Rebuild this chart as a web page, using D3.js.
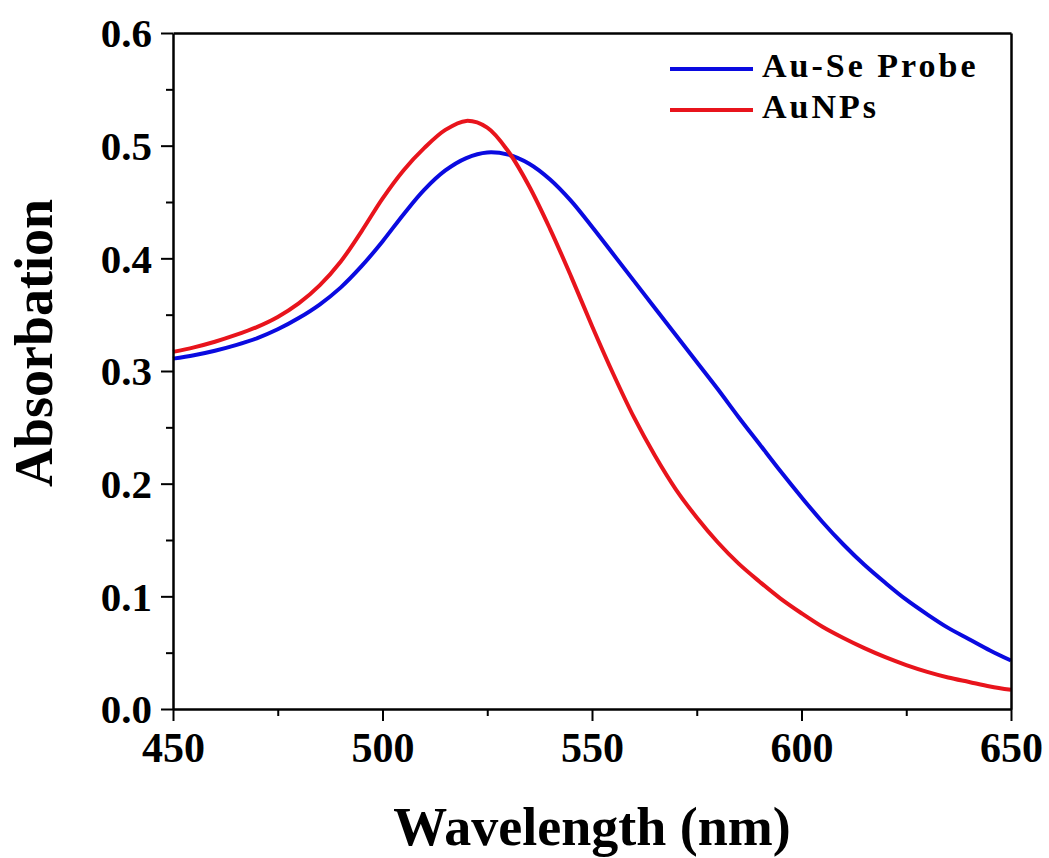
<!DOCTYPE html>
<html>
<head>
<meta charset="utf-8">
<script src="https://cdn.jsdelivr.net/npm/d3@7"></script>
<style>
  body { margin: 0; background: #fff; }
  text { font-family: "Liberation Serif", "Times New Roman", serif; font-weight: bold; fill: #000; }
</style>
</head>
<body>
<div id="vis"></div>
<script>
const FRAME_WIDTH = 1049;
const FRAME_HEIGHT = 858;
const MARGINS = {left: 173, right: 38, top: 33, bottom: 149};

const VIS_WIDTH = FRAME_WIDTH - MARGINS.left - MARGINS.right;
const VIS_HEIGHT = FRAME_HEIGHT - MARGINS.top - MARGINS.bottom;

// wavelength (nm)
const wavelengths = [450, 455, 460, 465, 470, 475, 480, 485, 490, 495,
                     500, 505, 510, 515, 520, 525, 530, 535, 540, 545,
                     550, 555, 560, 565, 570, 575, 580, 585, 590, 595,
                     600, 605, 610, 615, 620, 625, 630, 635, 640, 645, 650];

// Au-Se Probe absorbance
const probeValues = [0.311, 0.314, 0.318, 0.323, 0.329, 0.337, 0.347, 0.359, 0.374, 0.393,
                     0.415, 0.439, 0.461, 0.478, 0.489, 0.494, 0.492, 0.484, 0.470, 0.451,
                     0.428, 0.404, 0.380, 0.356, 0.332, 0.308, 0.284, 0.259, 0.235, 0.211,
                     0.188, 0.166, 0.146, 0.128, 0.112, 0.097, 0.084, 0.072, 0.062, 0.052, 0.043];

// AuNPs absorbance
const aunpValues = [0.317, 0.321, 0.326, 0.332, 0.339, 0.348, 0.360, 0.376, 0.397, 0.424,
                    0.453, 0.478, 0.498, 0.514, 0.522, 0.516, 0.495, 0.464, 0.426, 0.384,
                    0.340, 0.298, 0.259, 0.225, 0.195, 0.170, 0.148, 0.129, 0.113, 0.098,
                    0.085, 0.073, 0.063, 0.054, 0.046, 0.039, 0.033, 0.028, 0.024, 0.020, 0.017];

const xTicks = [450, 500, 550, 600, 650];
const xMinorTicks = [475, 525, 575, 625];
const yTicks = [0.0, 0.1, 0.2, 0.3, 0.4, 0.5, 0.6];
const yMinorTicks = [0.05, 0.15, 0.25, 0.35, 0.45, 0.55];

const seriesNames = ["Au-Se Probe", "AuNPs"];
const seriesColors = ["#0a0ae0", "#e8141c"];

const FRAME = d3.select("#vis")
                .append("svg")
                .attr("width", FRAME_WIDTH)
                .attr("height", FRAME_HEIGHT);

const X_SCALE = d3.scaleLinear()
                  .domain([450, 650])
                  .range([0, VIS_WIDTH]);

const Y_SCALE = d3.scaleLinear()
                  .domain([0, 0.6])
                  .range([VIS_HEIGHT, 0]);

const G = FRAME.append("g")
               .attr("transform", "translate(" + MARGINS.left + "," + MARGINS.top + ")");

// curves
const line = d3.line()
               .x((d) => X_SCALE(d[0]))
               .y((d) => Y_SCALE(d[1]))
               .curve(d3.curveCatmullRom.alpha(0.5));

[probeValues, aunpValues].forEach((vals, i) => {
  G.append("path")
   .datum(wavelengths.map((w, j) => [w, vals[j]]))
   .attr("fill", "none")
   .attr("stroke", seriesColors[i])
   .attr("stroke-width", 4)
   .attr("stroke-linejoin", "round")
   .attr("d", line);
});

// minor ticks
G.append("g")
 .attr("transform", "translate(0," + VIS_HEIGHT + ")")
 .call(d3.axisBottom(X_SCALE).tickValues(xMinorTicks).tickSize(7).tickFormat(""))
 .call((g) => g.select(".domain").remove())
 .selectAll("line").attr("stroke-width", 2);

G.append("g")
 .call(d3.axisLeft(Y_SCALE).tickValues(yMinorTicks).tickSize(7).tickFormat(""))
 .call((g) => g.select(".domain").remove())
 .selectAll("line").attr("stroke-width", 2);

// major axes
const xAxis = G.append("g")
               .attr("transform", "translate(0," + VIS_HEIGHT + ")")
               .call(d3.axisBottom(X_SCALE).tickValues(xTicks).tickSize(12).tickSizeOuter(0)
                       .tickPadding(8).tickFormat(d3.format("d")));
xAxis.selectAll("line").attr("stroke-width", 2);
xAxis.select(".domain").attr("stroke-width", 2.5);
xAxis.selectAll("text")
     .attr("font-size", "42px")
     .attr("font-family", "Liberation Serif")
     .attr("font-weight", "bold")
     .attr("dy", "0.78em");

const yAxis = G.append("g")
               .call(d3.axisLeft(Y_SCALE).tickValues(yTicks).tickSize(12).tickSizeOuter(0)
                       .tickPadding(9).tickFormat(d3.format(".1f")));
yAxis.selectAll("line").attr("stroke-width", 2);
yAxis.select(".domain").attr("stroke-width", 2.5);
yAxis.selectAll("text")
     .attr("font-size", "41px")
     .attr("font-family", "Liberation Serif")
     .attr("font-weight", "bold")
     .attr("dy", "0.34em");

// top and right frame lines
G.append("g")
 .call(d3.axisTop(X_SCALE).tickValues([]).tickSizeOuter(0))
 .select(".domain").attr("stroke-width", 2.5);
G.append("g")
 .attr("transform", "translate(" + VIS_WIDTH + ",0)")
 .call(d3.axisRight(Y_SCALE).tickValues([]).tickSizeOuter(0))
 .select(".domain").attr("stroke-width", 2.5);

// axis titles
FRAME.append("text")
     .attr("x", MARGINS.left + VIS_WIDTH / 2)
     .attr("y", 845)
     .attr("text-anchor", "middle")
     .attr("font-size", "54px")
     .text("Wavelength (nm)");

FRAME.append("text")
     .attr("transform", "translate(52," + 343 + ") rotate(-90)")
     .attr("text-anchor", "middle")
     .attr("font-size", "54px")
     .text("Absorbation");

// legend
const legend = FRAME.append("g").attr("transform", "translate(670,69)");
seriesNames.forEach((name, i) => {
  const row = legend.append("g").attr("transform", "translate(0," + (i * 41) + ")");
  row.append("line")
     .attr("x1", 0).attr("x2", 83)
     .attr("y1", 0).attr("y2", 0)
     .attr("stroke", seriesColors[i])
     .attr("stroke-width", 4);
  row.append("text")
     .attr("x", 92)
     .attr("y", 8)
     .attr("font-size", "34px")
     .attr("letter-spacing", "3px")
     .text(name);
});
</script>
</body>
</html>
